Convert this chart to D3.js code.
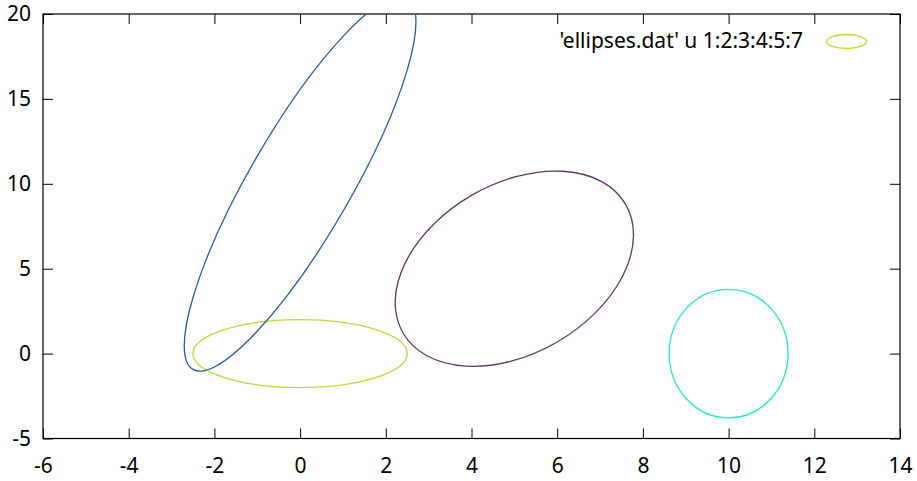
<!DOCTYPE html>
<html><head><meta charset="utf-8">
<script src="https://cdn.jsdelivr.net/npm/d3@7"></script>
<style>body{margin:0;background:#fff}svg{display:block}</style>
</head><body>
<script>
const xTicks = [-6,-4,-2,0,2,4,6,8,10,12,14];
const yTicks = [-5,0,5,10,15,20];
const cx = [0, 10, 5, 0];
const cy = [0, 0, 5, 10];
const major = [5, 3, 6, 10];
const minor = [4, 7, 10, 6];
const angle = [0, 90, 30, 60];
const colors = ["#bcd836", "#1af0b8", "#5f3a63", "#2a58a0"];
const legendLabel = "'ellipses.dat' u 1:2:3:4:5:7";

const W = 917, H = 481;
const FS = 21;
const m = {l:43, r:17, t:14, b:42.5};
const svg = d3.select("body").append("svg").attr("width", W).attr("height", H);
const x = d3.scaleLinear().domain([-6,14]).range([m.l, W-m.r]);
const y = d3.scaleLinear().domain([-5,20]).range([H-m.b, m.t]);
const pxX = x(1)-x(0), pxY = y(0)-y(1);

svg.append("clipPath").attr("id","clip").append("rect")
  .attr("x", m.l).attr("y", m.t).attr("width", W-m.r-m.l).attr("height", H-m.b-m.t);

const fmt = d => String(d);
const tl = 10;
const axB = svg.append("g").attr("transform",`translate(0,${H-m.b})`)
  .call(d3.axisBottom(x).tickValues(xTicks).tickSizeInner(-tl).tickSizeOuter(0).tickPadding(20).tickFormat(fmt));
const axT = svg.append("g").attr("transform",`translate(0,${m.t})`)
  .call(d3.axisTop(x).tickValues(xTicks).tickSizeInner(-tl).tickSizeOuter(0).tickFormat(""));
const axL = svg.append("g").attr("transform",`translate(${m.l},0)`)
  .call(d3.axisLeft(y).tickValues(yTicks).tickSizeInner(-tl).tickSizeOuter(0).tickPadding(12).tickFormat(fmt));
const axR = svg.append("g").attr("transform",`translate(${W-m.r},0)`)
  .call(d3.axisRight(y).tickValues(yTicks).tickSizeInner(-tl).tickSizeOuter(0).tickFormat(""));
[axB,axT,axL,axR].forEach(g=>{
  g.attr("font-family","Noto Sans").attr("font-size",FS);
  g.select(".domain").remove();
  g.selectAll("line").attr("stroke","#000").attr("stroke-width",1);
  g.selectAll("text").attr("fill","#000");
});
axB.selectAll("text").attr("dy","0.71em");
svg.append("rect").attr("x", m.l).attr("y", m.t).attr("width", W-m.r-m.l).attr("height", H-m.b-m.t)
  .attr("fill","none").attr("stroke","#000").attr("stroke-width",1.2);

const g = svg.append("g").attr("clip-path","url(#clip)");
g.selectAll("ellipse").data(cx.map((d,i)=>i)).join("ellipse")
  .attr("cx", 0).attr("cy", 0)
  .attr("rx", i=>major[i]/2*pxX).attr("ry", i=>minor[i]/2*pxY)
  .attr("transform", i=>`translate(${x(cx[i])},${y(cy[i])}) rotate(${-angle[i]})`)
  .attr("fill","none").attr("stroke", i=>colors[i]).attr("stroke-width",1.3);

svg.append("text").attr("x", 803).attr("y", 48).attr("text-anchor","end")
  .attr("font-family","Noto Sans").attr("font-size",FS).attr("fill","#000").text(legendLabel);
svg.append("ellipse").attr("cx", 846.5).attr("cy", 41.5).attr("rx", 20).attr("ry", 7)
  .attr("fill","none").attr("stroke", colors[0]).attr("stroke-width",1.3);
</script>
</body></html>
